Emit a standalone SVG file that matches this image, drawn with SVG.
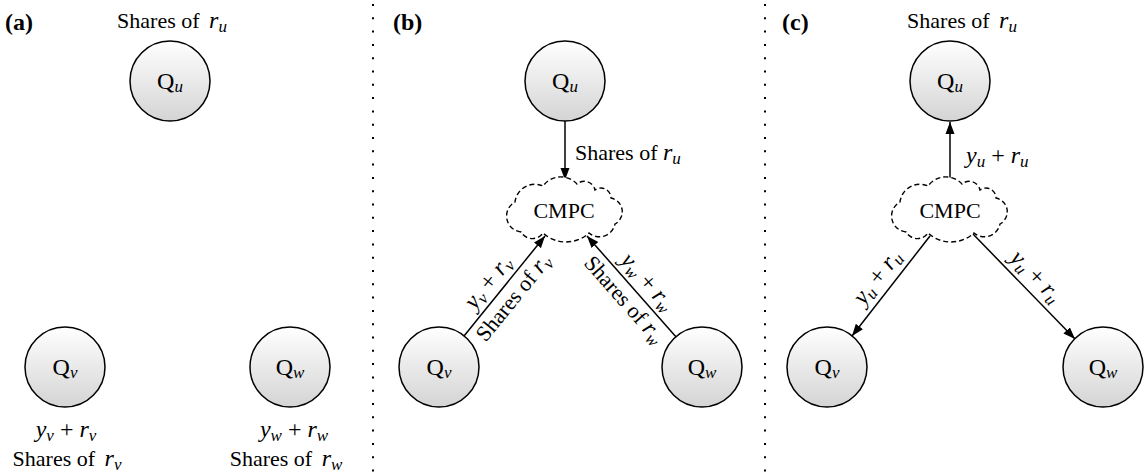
<svg xmlns="http://www.w3.org/2000/svg" width="1148" height="472" viewBox="0 0 1148 472">
<style>
text{font-family:"Liberation Serif","Times New Roman",serif;fill:#000}
.t{font-size:22px}
.m{font-size:24px}
.i{font-style:italic}
.sub{font-style:italic;font-size:17px}
.lab{font-size:24px;font-weight:bold}
.q{font-size:24px}
.node{fill:url(#g);stroke:#000;stroke-width:1.5}
.cloud{fill:#fff;stroke:#000;stroke-width:1.4;stroke-dasharray:5 3}
.edge{stroke:#000;stroke-width:1.5;fill:none;marker-end:url(#ah)}
.sep{stroke:#000;stroke-width:2;stroke-dasharray:2 11.3}
</style>
<defs>
<linearGradient id="g" x1="0" y1="0" x2="0" y2="1">
<stop offset="0" stop-color="#ffffff"/>
<stop offset="1" stop-color="#d4d4d4"/>
</linearGradient>
<marker id="ah" viewBox="0 0 12 10" refX="12" refY="5" markerWidth="12" markerHeight="10" markerUnits="userSpaceOnUse" orient="auto">
<path d="M0,0.5 L12,5 L0,9.5 z" fill="#000"/>
</marker>
<path id="cl" d="M-44,22 A16,16 0 0 1 -50,-8 A20,20 0 0 1 -22,-24 A22,22 0 0 1 12,-26 A11,11 0 0 1 30,-20 A10,10 0 0 1 46,-12 A14,14 0 0 1 50,14 A16,16 0 0 1 24,23 A34,34 0 0 1 -22,23 A13,13 0 0 1 -44,22 Z"/>
</defs>
<rect width="1148" height="472" fill="#fff"/>

<g id="separators">
<line class="sep" x1="373" y1="4" x2="373" y2="472"/>
<line class="sep" x1="765" y1="4" x2="765" y2="472"/>
</g>

<g id="panel-labels">
<text class="lab" x="5" y="30">(a)</text>
<text class="lab" x="393" y="30">(b)</text>
<text class="lab" x="782" y="30">(c)</text>
</g>

<g id="connectors">
<path class="edge" d="M565,121 L565,180"/>
<path class="edge" d="M464,336 L545,236"/>
<path class="edge" d="M677,338 L587,236"/>
<path class="edge" d="M950,180 L950,122"/>
<path class="edge" d="M930,236 L852,336"/>
<path class="edge" d="M973,234 L1075,339"/>
</g>

<g id="a-Qu">
<circle class="node" cx="170" cy="81" r="40"/>
<text class="q" x="170" y="89" text-anchor="middle">Q<tspan class="sub" dy="3">u</tspan></text>
<text class="t" x="172" y="28" text-anchor="middle">Shares of <tspan class="m i" dx="4">r</tspan><tspan class="sub" dy="4">u</tspan></text>
</g>
<g id="a-Qv">
<circle class="node" cx="65" cy="367" r="40"/>
<text class="q" x="65" y="375" text-anchor="middle">Q<tspan class="sub" dy="3">v</tspan></text>
<text class="m" x="66" y="437" text-anchor="middle"><tspan class="i">y</tspan><tspan class="sub" dy="4">v</tspan><tspan dy="-4"> + </tspan><tspan class="i">r</tspan><tspan class="sub" dy="4">v</tspan></text>
<text class="t" x="67" y="466" text-anchor="middle">Shares of <tspan class="m i" dx="4">r</tspan><tspan class="sub" dy="4">v</tspan></text>
</g>
<g id="a-Qw">
<circle class="node" cx="290" cy="367" r="40"/>
<text class="q" x="290" y="375" text-anchor="middle">Q<tspan class="sub" dy="3">w</tspan></text>
<text class="m" x="294" y="437" text-anchor="middle"><tspan class="i">y</tspan><tspan class="sub" dy="4">w</tspan><tspan dy="-4"> + </tspan><tspan class="i">r</tspan><tspan class="sub" dy="4">w</tspan></text>
<text class="t" x="286" y="466" text-anchor="middle">Shares of <tspan class="m i" dx="4">r</tspan><tspan class="sub" dy="4">w</tspan></text>
</g>

<g id="b-Qu">
<circle class="node" cx="565" cy="81" r="40"/>
<text class="q" x="565" y="89" text-anchor="middle">Q<tspan class="sub" dy="3">u</tspan></text>
</g>
<g id="b-CMPC">
<use href="#cl" class="cloud" transform="translate(565,210)"/>
<text class="t" x="564" y="218" text-anchor="middle">CMPC</text>
</g>
<g id="b-Qv">
<circle class="node" cx="439" cy="367" r="40"/>
<text class="q" x="439" y="375" text-anchor="middle">Q<tspan class="sub" dy="3">v</tspan></text>
</g>
<g id="b-Qw">
<circle class="node" cx="702" cy="367" r="40"/>
<text class="q" x="702" y="375" text-anchor="middle">Q<tspan class="sub" dy="3">w</tspan></text>
</g>
<g id="b-labels">
<text class="t" x="575" y="160">Shares of <tspan class="m i">r</tspan><tspan class="sub" dy="4">u</tspan></text>
<g transform="translate(500,292) rotate(-51)">
<text class="m" x="0" y="-8" text-anchor="middle"><tspan class="i">y</tspan><tspan class="sub" dy="4">v</tspan><tspan dy="-4"> + </tspan><tspan class="i">r</tspan><tspan class="sub" dy="4">v</tspan></text>
<text class="t" x="4" y="21" text-anchor="middle">Shares of <tspan class="m i">r</tspan><tspan class="sub" dy="4">v</tspan></text>
</g>
<g transform="translate(636,292) rotate(48.6)">
<text class="m" x="0" y="-8" text-anchor="middle"><tspan class="i">y</tspan><tspan class="sub" dy="4">w</tspan><tspan dy="-4"> + </tspan><tspan class="i">r</tspan><tspan class="sub" dy="4">w</tspan></text>
<text class="t" x="-2" y="21" text-anchor="middle">Shares of <tspan class="m i">r</tspan><tspan class="sub" dy="4">w</tspan></text>
</g>
</g>

<g id="c-Qu">
<circle class="node" cx="950" cy="81" r="40"/>
<text class="q" x="950" y="89" text-anchor="middle">Q<tspan class="sub" dy="3">u</tspan></text>
<text class="t" x="962" y="28" text-anchor="middle">Shares of <tspan class="m i" dx="4">r</tspan><tspan class="sub" dy="4">u</tspan></text>
</g>
<g id="c-CMPC">
<use href="#cl" class="cloud" transform="translate(950,210)"/>
<text class="t" x="950" y="218" text-anchor="middle">CMPC</text>
</g>
<g id="c-Qv">
<circle class="node" cx="827" cy="367" r="40"/>
<text class="q" x="827" y="375" text-anchor="middle">Q<tspan class="sub" dy="3">v</tspan></text>
</g>
<g id="c-Qw">
<circle class="node" cx="1103" cy="367" r="40"/>
<text class="q" x="1103" y="375" text-anchor="middle">Q<tspan class="sub" dy="3">w</tspan></text>
</g>
<g id="c-labels">
<text class="m" x="966" y="163"><tspan class="i">y</tspan><tspan class="sub" dy="4">u</tspan><tspan dy="-4"> + </tspan><tspan class="i">r</tspan><tspan class="sub" dy="4">u</tspan></text>
<g transform="translate(890,287) rotate(-52)">
<text class="m" x="0" y="-9" text-anchor="middle"><tspan class="i">y</tspan><tspan class="sub" dy="4">u</tspan><tspan dy="-4"> + </tspan><tspan class="i">r</tspan><tspan class="sub" dy="4">u</tspan></text>
</g>
<g transform="translate(1025,287) rotate(45.8)">
<text class="m" x="0" y="-8" text-anchor="middle"><tspan class="i">y</tspan><tspan class="sub" dy="4">u</tspan><tspan dy="-4"> + </tspan><tspan class="i">r</tspan><tspan class="sub" dy="4">u</tspan></text>
</g>
</g>
</svg>
